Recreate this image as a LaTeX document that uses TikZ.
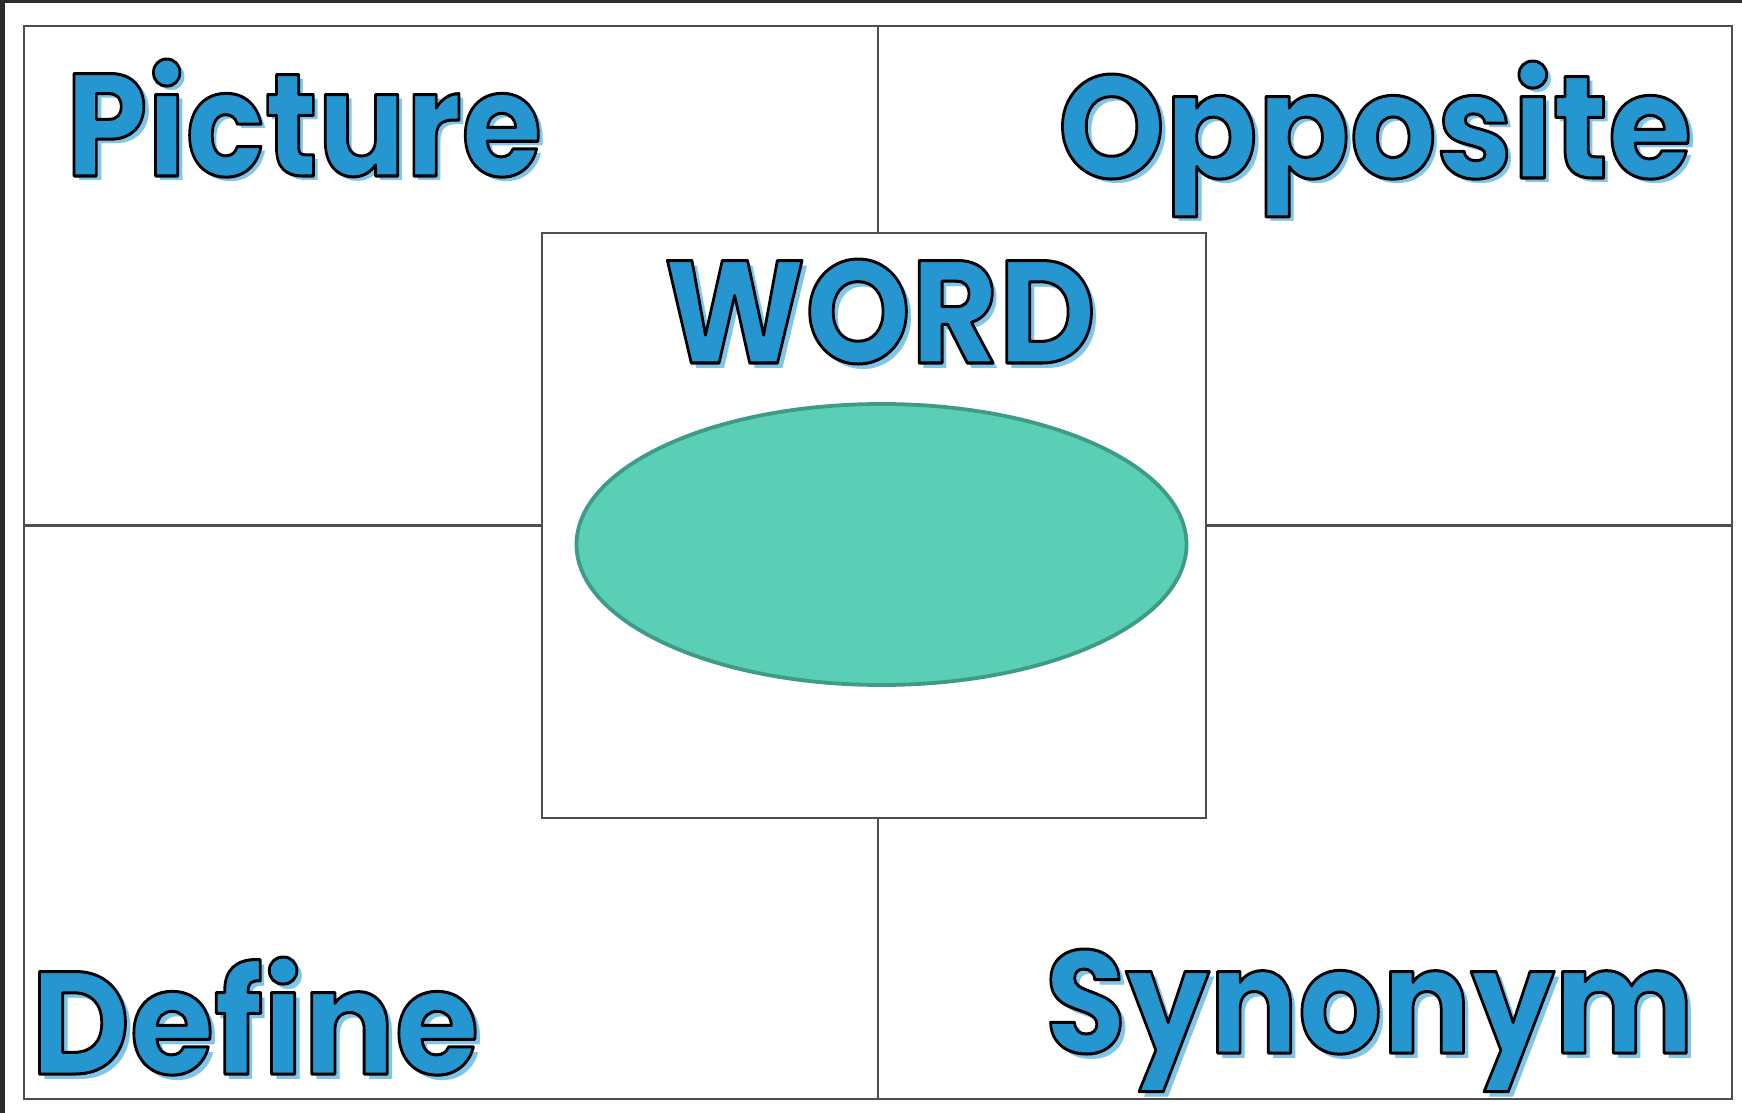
\documentclass[tikz,border=0pt]{standalone}
\usepackage{fontspec}
\usepackage{graphicx}
\usetikzlibrary{shapes.geometric}
\newfontfamily\popfont{Poppins}
\definecolor{wblue}{RGB}{37,150,208}
\definecolor{wshadow}{RGB}{128,198,234}
\definecolor{tealfill}{RGB}{91,207,182}
\definecolor{tealline}{RGB}{62,155,135}
\definecolor{framegray}{RGB}{78,78,78}
\definecolor{band}{RGB}{42,44,48}
\newcommand{\outl}[1]{\special{pdf:literal direct 0 0 0 RG 1.5 w 1 j 2 Tr}#1\special{pdf:literal direct 0 Tr}}
\newcommand{\wtext}[2]{\resizebox{#1}{\height}{#2}}
\tikzset{
  lbl/.style={anchor=base west, inner sep=0pt, outer sep=0pt, text=wblue,
    font=\popfont\bfseries\fontsize{73pt}{78pt}\selectfont},
  shad/.style={anchor=base west, inner sep=0pt, outer sep=0pt, text=wshadow,
    font=\popfont\bfseries\fontsize{73pt}{78pt}\selectfont},
  boxline/.style={draw=framegray, line width=1.25pt},
}
\begin{document}
\begin{tikzpicture}[x=0.5pt, y=-0.5pt]
\useasboundingbox (0,0) rectangle (1742,1113);
\fill[white] (0,0) rectangle (1742,1113);
\fill[band] (0,0) rectangle (1742,3);
\fill[band] (0,0) rectangle (5,1113);
% frame and centre box
\node[boxline, rectangle, minimum width=854pt, minimum height=536.5pt, inner sep=0pt] (frame) at (878,562.5) {};
\node[boxline, rectangle, fill=white, minimum width=332pt, minimum height=292.5pt, inner sep=0pt] (center) at (874,525.5) {};
\draw[boxline] (frame.north) -- (frame.north |- center.north);
\draw[boxline] (frame.south) -- (frame.south |- center.south);
\draw[boxline] (frame.west |- center.west) -- (center.west);
\draw[boxline] (center.east) -- (frame.east |- center.east);
% ellipse
\node[ellipse, draw=tealline, fill=tealfill, line width=1.9pt, minimum width=305pt, minimum height=140.5pt, inner sep=0pt] (oval) at (881.5,544.5) {};
% labels: shadows
\node[shad] (picS) at (71,181) {\wtext{238pt}{Picture}};
\node[shad] (oppS) at (1063,183) {\wtext{317pt}{Opposite}};
\node[shad] (wordS) at (669,368) {\wtext{216pt}{WORD}};
\node[shad] (defS) at (36,1079) {\wtext{224pt}{Define}};
\node[shad] (synS) at (1050,1058) {\wtext{324.5pt}{Synonym}};
% labels
\node[lbl] (pic) at (66,176) {\wtext{238pt}{\outl{Picture}}};
\node[lbl] (opp) at (1058,178) {\wtext{317pt}{\outl{Opposite}}};
\node[lbl] (word) at (664,363) {\wtext{216pt}{\outl{WORD}}};
\node[lbl] (def) at (31,1074) {\wtext{224pt}{\outl{Define}}};
\node[lbl] (syn) at (1045,1053) {\wtext{324.5pt}{\outl{Synonym}}};
\end{tikzpicture}
\end{document}
